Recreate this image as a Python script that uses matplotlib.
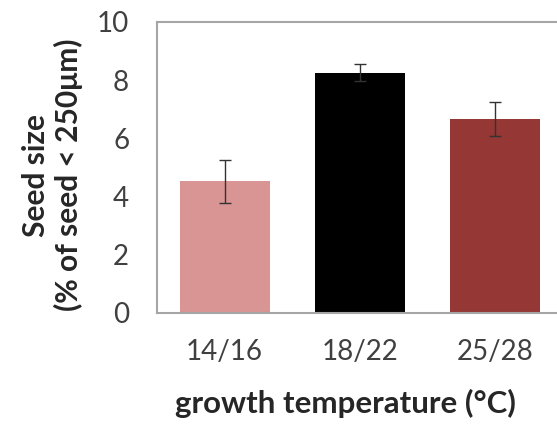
import matplotlib.pyplot as plt

temps = ["14/16", "18/22", "25/28"]
seed_size = [4.52, 8.26, 6.67]
seed_err = [0.73, 0.30, 0.58]
bar_colors = ["#D99594", "#000000", "#953735"]

plt.rcParams['font.family'] = ['Lato', 'DejaVu Sans']

fig = plt.figure(figsize=(5.57, 4.26), dpi=100)
ax = fig.add_axes([0.2819, 0.2653, 0.7289, 0.6831])

x = range(len(temps))
ax.bar(x, seed_size, width=0.665, color=bar_colors,
       yerr=seed_err, capsize=4,
       error_kw=dict(ecolor="#333333", elinewidth=1.0, capthick=1.0))

ax.set_xlim(-0.5, 2.5)
ax.set_ylim(0, 10)
ax.set_yticks([0, 2, 4, 6, 8, 10])
ax.set_xticks(list(x))
ax.set_xticklabels(temps)
ax.tick_params(length=0, labelsize=20, labelcolor="#404040")
ax.tick_params(axis='y', pad=20)
ax.tick_params(axis='x', pad=19)

for s in ax.spines.values():
    s.set_color("#A6A6A6")
    s.set_linewidth(1.5)

ax.set_ylabel("Seed size\n(% of seed < 250μm)", fontsize=21.5, fontweight='bold',
              color="#262626", linespacing=1.15)
ax.yaxis.set_label_coords(-0.183, 0.474)
ax.set_xlabel("growth temperature (°C)", fontsize=22.5, fontweight='bold',
              color="#262626")
ax.xaxis.set_label_coords(0.464, -0.26)

fig.savefig("out.png", dpi=100)
